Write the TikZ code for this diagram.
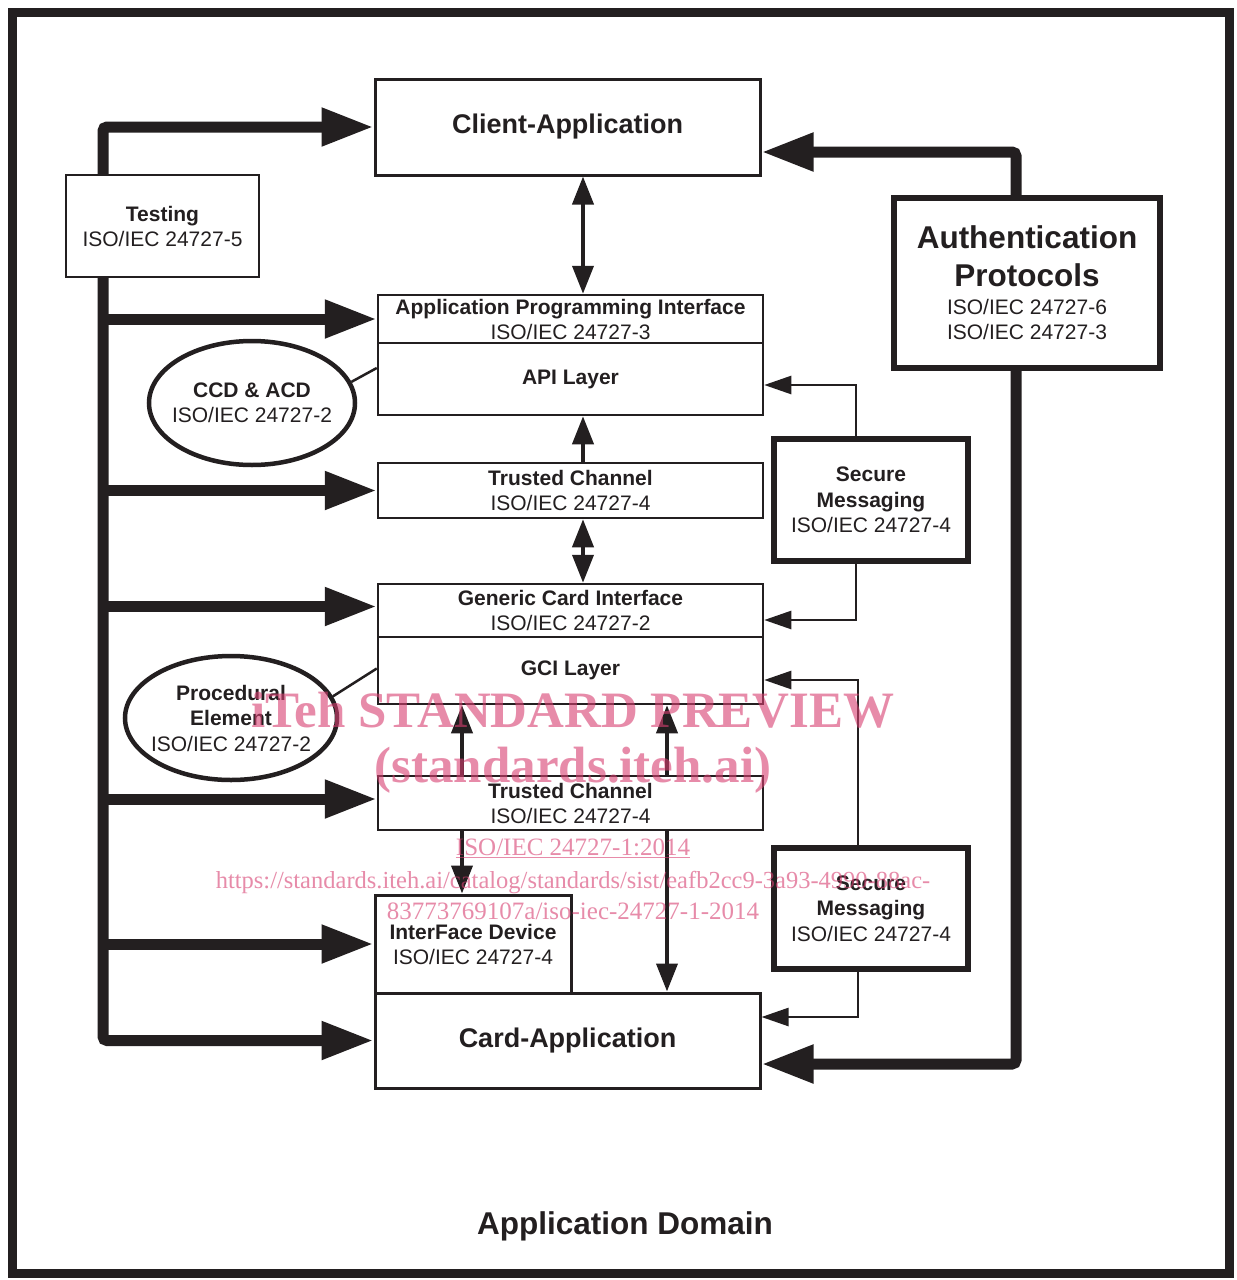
\documentclass[tikz,border=0pt]{standalone}
\usepackage{fontspec}
\setmainfont{Liberation Sans}
\newfontfamily\wmfont{Liberation Serif}
\usetikzlibrary{arrows.meta,shapes.geometric,calc,backgrounds}
\definecolor{wmpink}{RGB}{215,63,113}
\definecolor{ink}{RGB}{35,31,32}
\begin{document}
\begin{tikzpicture}[x=1pt,y=-1pt,
  bigtip/.tip={Triangle[length=52pt,width=36pt]},
  midtip/.tip={Triangle[length=28pt,width=21pt]},
  smalltip/.tip={Triangle[length=27pt,width=18pt]},
  box/.style={draw=ink, line width=2.5pt, fill=white, inner sep=0pt, align=center, text=ink,
              font=\fontsize{21}{25}\selectfont},
  bigbox/.style={box, line width=3pt, font=\fontsize{27}{32}\selectfont\bfseries},
  heavybox/.style={box, line width=5.5pt},
  oval/.style={ellipse, draw=ink, line width=4.5pt, fill=white, inner sep=0pt},
  ovaltext/.style={inner sep=0pt, align=center, text=ink, font=\fontsize{21}{25}\selectfont},
  bus/.style={draw=ink, line width=11pt, rounded corners=4pt},
  midarrow/.style={draw=ink, line width=4pt},
  thinarrow/.style={draw=ink, line width=2.5pt, -smalltip},
  tie/.style={draw=ink, line width=2.5pt},
  wm/.style={text=wmpink, text opacity=0.6, anchor=base, inner sep=0pt},
]
\useasboundingbox (0,0) rectangle (1237,1280);

% outer frame: application domain
\draw[ink, line width=9pt] (12,12) rectangle (1229,1273);
\node[text=ink, font=\fontsize{31.5}{36}\selectfont\bfseries] (domain) at (625,1226) {Application Domain};

% boxes
\node[bigbox, minimum width=385pt, minimum height=96pt] (cli) at (567.5,127) {Client-Application};
\node[box, minimum width=193pt, minimum height=102pt] (test) at (162.5,226) {\textbf{Testing}\\ISO/IEC 24727-5};
\node[box, minimum width=385pt, minimum height=48pt] (apit) at (570.5,319) {\textbf{Application Programming Interface}\\ISO/IEC 24727-3};
\node[box, minimum width=385pt, minimum height=72pt] (apil) at (570.5,379) {\textbf{API Layer}};
\node[box, minimum width=385pt, minimum height=55pt] (tc1) at (570.5,490.5) {\textbf{Trusted Channel}\\ISO/IEC 24727-4};
\node[box, minimum width=385pt, minimum height=53pt] (gcit) at (570.5,610.5) {\textbf{Generic Card Interface}\\ISO/IEC 24727-2};
\node[box, minimum width=385pt, minimum height=67pt] (gcil) at (570.5,670.5) {\textbf{GCI Layer}};
\node[box, minimum width=385pt, minimum height=54pt] (tc2) at (570.5,803) {\textbf{Trusted Channel}\\ISO/IEC 24727-4};
\node[box, line width=3pt, minimum width=196pt, minimum height=98pt] (ifd) at (473,944) {\textbf{InterFace Device}\\ISO/IEC 24727-4};
\node[bigbox, minimum width=385pt, minimum height=95pt] (card) at (567.5,1040.5) {Card-Application};
\node[heavybox, minimum width=266pt, minimum height=170pt, font=\fontsize{31.5}{38}\selectfont] (auth) at (1027,283)
  {\textbf{Authentication}\\\textbf{Protocols}\\[-10pt]\fontsize{21}{25}\selectfont ISO/IEC 24727-6\\[-13pt]\fontsize{21}{25}\selectfont ISO/IEC 24727-3};
\node[heavybox, minimum width=194pt, minimum height=122pt, font=\fontsize{21}{25.5}\selectfont] (sm1) at (871,500)
  {\textbf{Secure}\\\textbf{Messaging}\\ISO/IEC 24727-4};
\node[heavybox, minimum width=194pt, minimum height=121pt, font=\fontsize{21}{25.5}\selectfont] (sm2) at (871,908.5)
  {\textbf{Secure}\\\textbf{Messaging}\\ISO/IEC 24727-4};
\node[oval, minimum width=206pt, minimum height=124pt] (ccd) at (252,403) {};
\node[ovaltext] (ccdt) at (252,403) {\textbf{CCD \& ACD}\\ISO/IEC 24727-2};
\node[oval, minimum width=212pt, minimum height=124pt] (proc) at (231,718) {};
\node[ovaltext, font=\fontsize{21}{25.5}\selectfont] (proct) at (231,718)
  {\textbf{Procedural}\\\textbf{Element}\\ISO/IEC 24727-2};

\coordinate (busx) at (103,0);
\coordinate (rx) at (1016,0);
\coordinate (vx) at (583,0);
\coordinate (lx) at (462,0);
\coordinate (mx) at (667,0);
\coordinate (gin) at ($(gcit.west)+(0,-4)$);
\coordinate (tin) at ($(tc2.west)+(0,-4)$);

\begin{pgfonlayer}{background}
\fill[white] (0,0) rectangle (1237,1280);
% left bus from Testing
\draw[bus, bigtip-bigtip] (cli.west) -- (busx |- cli.west) -- (busx |- card.west) -- (card.west);
\draw[bus, -bigtip] (busx |- apit.west) -- (apit.west);
\draw[bus, -bigtip] (busx |- tc1.west) -- (tc1.west);
\draw[bus, -bigtip] (busx |- gin) -- (gin);
\draw[bus, -bigtip] (busx |- tin) -- (tin);
\draw[bus, -bigtip] (busx |- ifd.west) -- (ifd.west);
% authentication protocols
\draw[bus, -bigtip] (rx |- auth.north) |- ($(cli.east)+(0,25)$);
\draw[bus, -bigtip] (rx |- auth.south) |- ($(card.east)+(0,23.5)$);
\end{pgfonlayer}

% layer connections
\draw[midarrow, midtip-midtip] (vx |- cli.south) -- (vx |- apit.north);
\draw[midarrow, -midtip] (vx |- tc1.north) -- (vx |- apil.south);
\draw[midarrow, midtip-midtip] (vx |- tc1.south) -- (vx |- gcit.north);
\draw[midarrow, -midtip] (lx |- tc2.north) -- (lx |- gcil.south);
\draw[midarrow, -midtip] (mx |- tc2.north) -- (mx |- gcil.south);
\draw[midarrow, -midtip] (lx |- tc2.south) -- (lx |- ifd.north);
\draw[midarrow, -midtip] (mx |- tc2.south) -- (mx |- card.north);

% secure messaging
\draw[thinarrow] ($(sm1.north)+(-15,0)$) |- ($(apil.east)+(0,6)$);
\draw[thinarrow] ($(sm1.south)+(-15,0)$) |- ($(gcit.east)+(0,9.5)$);
\draw[thinarrow] ($(sm2.north)+(-13,0)$) |- ($(gcil.east)+(0,9.5)$);
\draw[thinarrow] ($(sm2.south)+(-13,0)$) |- ($(card.east)+(0,-23.5)$);

% ellipse ties
\draw[tie] (ccd.12) -- ($(apil.west)+(0,-11)$);
\draw[tie] (proc.12) -- ($(gcil.west)+(0,-2)$);

% watermark
\node[wm, font=\wmfont\bfseries\fontsize{51}{60}\selectfont] (wm1) at (573,727) {iTeh STANDARD PREVIEW};
\node[wm, font=\wmfont\bfseries\fontsize{51}{60}\selectfont] (wm2) at (573,782) {(standards.iteh.ai)};
\node[wm, font=\wmfont\fontsize{25}{30}\selectfont] (wm3) at (573,855) {\underline{ISO/IEC 24727-1:2014}};
\node[wm, font=\wmfont\fontsize{24.5}{30}\selectfont] (wm4) at (573,888) {https://standards.iteh.ai/catalog/standards/sist/eafb2cc9-3a93-4990-88ac-};
\node[wm, font=\wmfont\fontsize{25}{30}\selectfont] (wm5) at (573,919) {83773769107a/iso-iec-24727-1-2014};
\end{tikzpicture}
\end{document}
